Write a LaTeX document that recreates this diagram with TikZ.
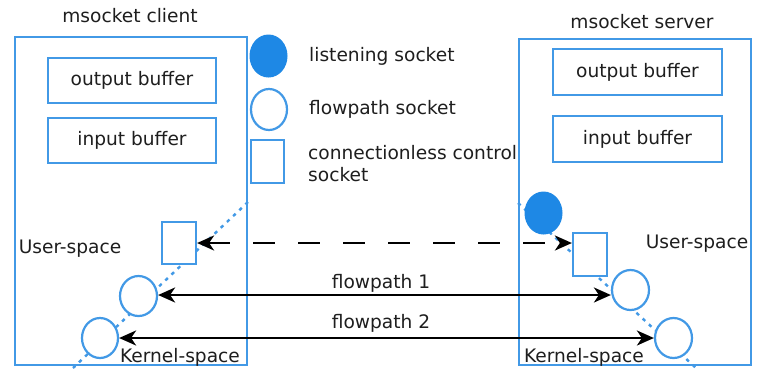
\documentclass[tikz,border=0pt]{standalone}
\usepackage{fontspec}
\setmainfont{DejaVu Sans}
\usetikzlibrary{arrows.meta,shapes.geometric}
\definecolor{sockblue}{RGB}{30,136,229}
\definecolor{edgeblue}{RGB}{66,153,230}
\definecolor{inkgray}{RGB}{30,30,30}
\tikzset{
  panel/.style={draw=edgeblue, line width=2.2pt, inner sep=0pt},
  bufbox/.style={draw=edgeblue, line width=2.2pt, inner sep=0pt,
    minimum width=168pt, minimum height=45pt, text height=14pt, text depth=4pt,
    text=inkgray, font=\fontsize{18.6}{22}\selectfont},
  listensock/.style={ellipse, draw=sockblue, fill=sockblue, line width=1pt,
    inner sep=0pt, minimum width=37pt, minimum height=42pt},
  flowsock/.style={ellipse, draw=edgeblue, fill=white, line width=2.2pt,
    inner sep=0pt, minimum width=37pt, minimum height=40pt},
  ctrlsock/.style={rectangle, draw=edgeblue, fill=white, line width=2.2pt,
    inner sep=0pt, minimum width=33pt, minimum height=42pt},
  lbl/.style={inner sep=0pt, anchor=base, text=inkgray,
    font=\fontsize{18.6}{22}\selectfont},
  legendtxt/.style={lbl, anchor=base west},
  link/.style={{Stealth[length=17pt,width=15pt,inset=5pt]}-{Stealth[length=17pt,width=15pt,inset=5pt]},
    line width=2.2pt, black},
  layerline/.style={draw=edgeblue, line width=2.4pt, dash pattern=on 3.5pt off 5pt},
}
\begin{document}
\begin{tikzpicture}[x=1pt,y=-1pt]
\useasboundingbox[fill=white] (0,0) rectangle (757,368);

% user/kernel boundary lines (drawn first, sockets sit on top)
\coordinate (cl1) at (248,202);
\coordinate (cl2) at (73,368);
\coordinate (sl1) at (518,203);
\coordinate (sl2) at (696,368);
\draw[layerline] (cl1) -- (cl2);
\draw[layerline] (sl1) -- (sl2);

% client side
\node[panel, minimum width=232pt, minimum height=328pt] (client) at (131,201) {};
\node[lbl] (clienttitle) at (130,22) {msocket client};
\node[bufbox] (cout) at (132,80.5) {output buffer};
\node[bufbox] (cin) at (132,140.5) {input buffer};
\node[lbl] (cuser) at (70,253) {User-space};
\node[lbl] (ckernel) at (180,362) {Kernel-space};
\node[ctrlsock, minimum width=34pt] (cs) at (179,243) {};
\node[flowsock] (cc1) at (138.5,296) {};
\node[flowsock, minimum width=36pt] (cc2) at (100,338) {};

% server side
\node[panel, minimum width=232pt, minimum height=326pt] (server) at (635,202) {};
\node[lbl] (servertitle) at (642,28) {msocket server};
\node[bufbox, minimum width=169pt, minimum height=46pt] (sout) at (637.5,72) {output buffer};
\node[bufbox, minimum width=169pt, minimum height=46pt] (sin) at (637.5,139) {input buffer};
\node[lbl] (suser) at (697,248) {User-space};
\node[lbl] (skernel) at (584,362) {Kernel-space};
\node[listensock] (sl) at (543.5,213) {};
\node[ctrlsock, minimum width=34pt, minimum height=43pt] (ss) at (590,254.5) {};
\node[flowsock] (sc1) at (630.5,290) {};
\node[flowsock] (sc2) at (673.5,338) {};

% legend
\node[listensock] (lgl) at (268.5,56) {};
\node[flowsock, minimum width=36pt, minimum height=41pt] (lgf) at (269,109.5) {};
\node[ctrlsock, minimum height=43pt] (lgc) at (267.5,161.5) {};
\node[legendtxt] (lgltxt) at (309,61) {listening socket};
\node[legendtxt] (lgftxt) at (309,114) {flowpath socket};
\node[legendtxt] (lgctxt1) at (308,159) {connectionless control};
\node[legendtxt] (lgctxt2) at (308,181) {socket};

% connections
\draw[link, dash pattern=on 22pt off 23pt] (cs.east) -- (cs.east -| ss.west);
\draw[link] ([yshift=1pt]cc1.east) -- ([yshift=1pt]cc1.east -| sc1.west);
\draw[link] (cc2.east) -- (sc2.west);
\node[lbl] (fp1) at (381,288) {flowpath 1};
\node[lbl] (fp2) at (381,328) {flowpath 2};
\end{tikzpicture}
\end{document}
